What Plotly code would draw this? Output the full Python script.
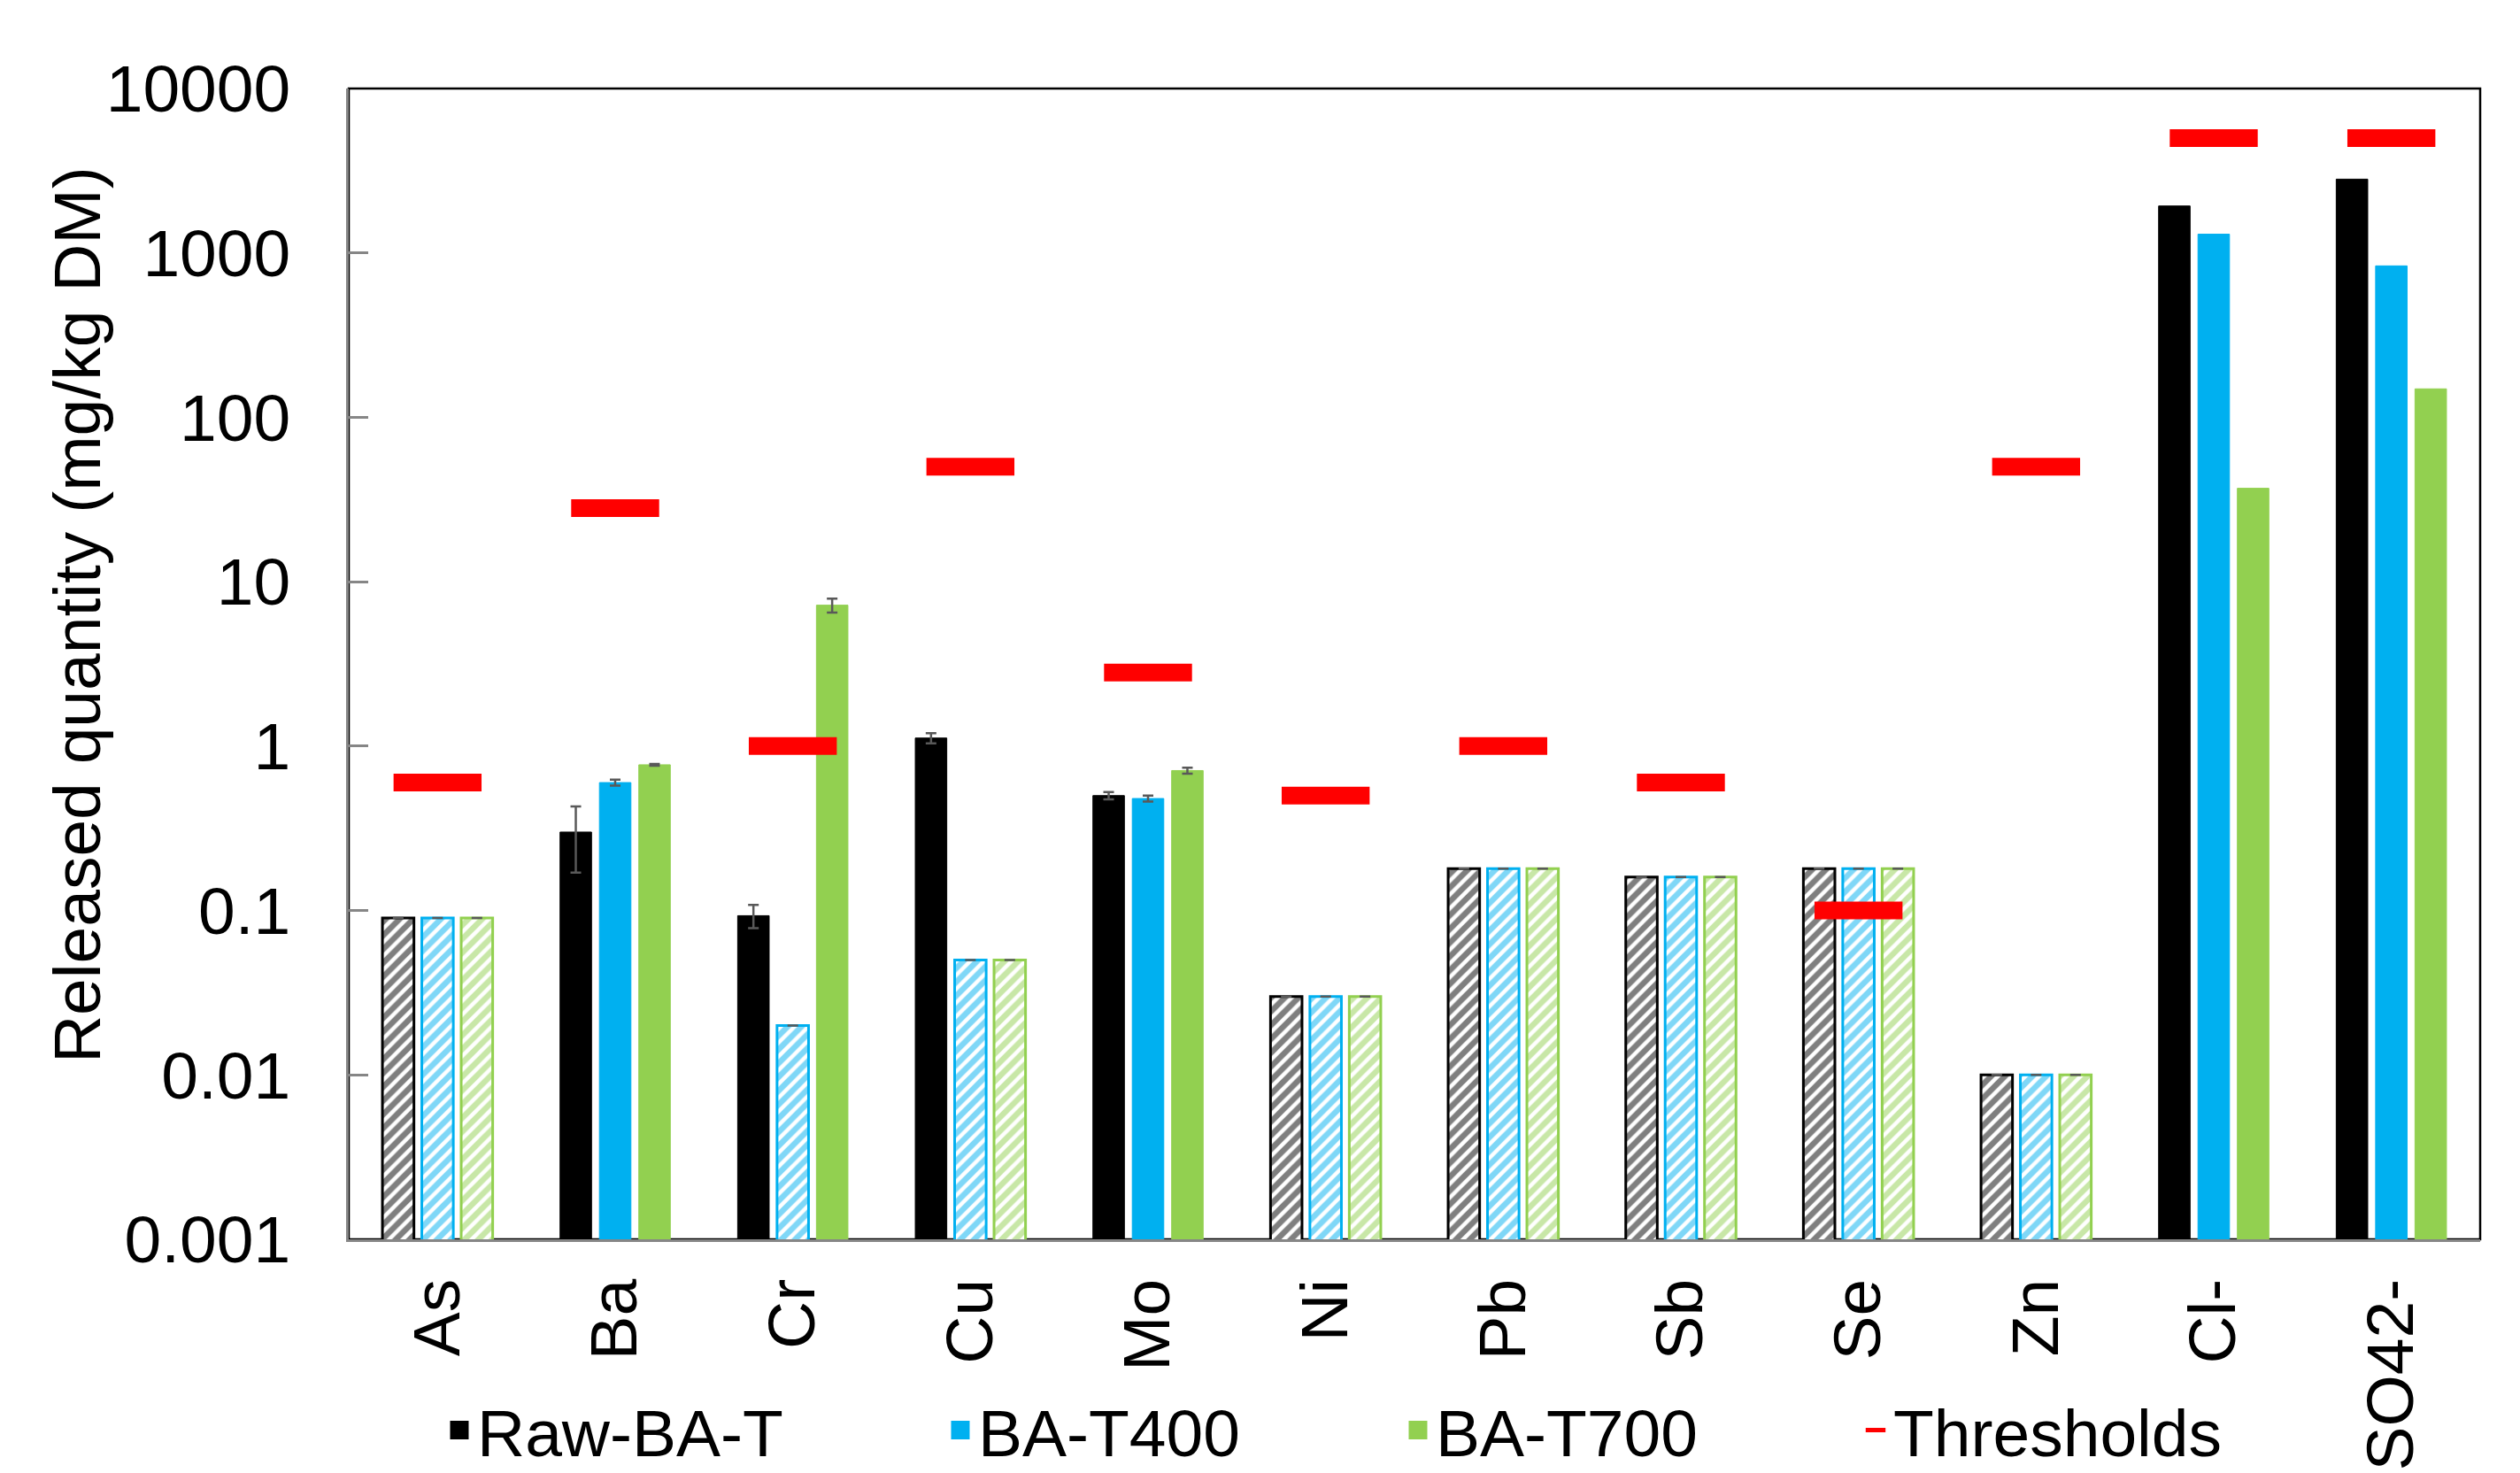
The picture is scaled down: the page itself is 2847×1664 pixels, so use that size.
import plotly.graph_objects as go

categories = ["As", "Ba", "Cr", "Cu", "Mo", "Ni", "Pb", "Sb", "Se", "Zn", "Cl-", "SO42-"]

raw_vals = [0.09, 0.30, 0.093, 1.12, 0.50, 0.03, 0.18, 0.16, 0.18, 0.01, 1930, 2810]
t400_vals = [0.09, 0.60, 0.02, 0.05, 0.48, 0.03, 0.18, 0.16, 0.18, 0.01, 1300, 834]
t700_vals = [0.09, 0.77, 7.2, 0.05, 0.71, 0.03, 0.18, 0.16, 0.18, 0.01, 37, 149]

# error bars (no error bars shown for Cl- and SO42-, so the lists stop at Zn)
raw_err = [0, 0.13, 0.015, 0.08, 0.025, 0, 0, 0, 0, 0]
t400_err = [0, 0.025, 0, 0, 0.02, 0, 0, 0, 0, 0]
t700_err = [0, 0.01, 0.7, 0, 0.03, 0, 0, 0, 0, 0]

# 1 = hatched bar (value at detection limit), 0 = solid bar
raw_hatched = [1, 0, 0, 0, 0, 1, 1, 1, 1, 1, 0, 0]
t400_hatched = [1, 0, 1, 1, 0, 1, 1, 1, 1, 1, 0, 0]
t700_hatched = [1, 0, 0, 1, 0, 1, 1, 1, 1, 1, 0, 0]

thresholds = [0.6, 28, 1, 50, 2.8, 0.5, 1, 0.6, 0.1, 50, 5000, 5000]

series_names = ["Raw-BA-T", "BA-T400", "BA-T700"]
series_colors = ["#000000", "#00B0F0", "#92D050"]
legend_widths = [521, 472, 472]

y_tickvals = [0.001, 0.01, 0.1, 1, 10, 100, 1000, 10000]
y_ticktext = ["0.001", "0.01", "0.1", "1", "10", "100", "1000", "10000"]

FONT = "Liberation Sans, Arial, sans-serif"
FS = 75

fig = go.Figure()

for name, color, vals, errs, hatch in zip(
    series_names, series_colors,
    [raw_vals, t400_vals, t700_vals],
    [raw_err, t400_err, t700_err],
    [raw_hatched, t400_hatched, t700_hatched],
):
    fig.add_trace(go.Bar(
        x=categories, y=vals, name=name, showlegend=False,
        marker=dict(
            color=color,
            line=dict(color=color, width=[3 if h else 1 for h in hatch]),
            pattern=dict(
                shape=["/" if h else "" for h in hatch],
                fgcolor=color, bgcolor="white", size=11, solidity=0.6,
            ),
        ),
        error_y=dict(type="data", array=errs, visible=True,
                     color="#595959", thickness=2.5, width=6),
    ))

for name, color, lw in zip(series_names, series_colors, legend_widths):
    fig.add_trace(go.Scatter(
        x=[None], y=[None], mode="markers", name=name, legendwidth=lw,
        marker=dict(symbol="square", size=16, color=color,
                    line=dict(color=color, width=5)),
    ))

fig.add_trace(go.Scatter(
    x=categories, y=thresholds, mode="markers", name="Thresholds",
    marker=dict(symbol="line-ew", size=71, color="#FF0000",
                line=dict(color="#FF0000", width=20)),
))

fig.update_layout(
    width=2847, height=1664,
    margin=dict(l=394, r=45, t=100, b=264, autoexpand=False),
    paper_bgcolor="white", plot_bgcolor="white",
    font=dict(family=FONT, size=FS, color="black"),
    barmode="group", bargap=0.335, bargroupgap=0.2,
    legend=dict(
        orientation="h", x=0.0436, xanchor="left", y=-0.166, yanchor="middle",
        font=dict(family=FONT, size=FS, color="black"),
        bgcolor="rgba(0,0,0,0)",
    ),
    xaxis=dict(
        type="category", range=[-0.5, len(categories) - 0.5],
        showline=True, linecolor="#868686", linewidth=2.5,
        ticks="", tickangle=-90, showgrid=False, zeroline=False, automargin=False,
        tickfont=dict(family=FONT, size=FS), ticklabelstandoff=12,
    ),
    yaxis=dict(
        type="log", range=[-3, 4], tickvals=y_tickvals, ticktext=y_ticktext,
        ticks="inside", ticklen=22, tickcolor="#868686", tickwidth=2.5,
        showline=True, linecolor="#868686", linewidth=2.5,
        showgrid=False, zeroline=False, automargin=False,
        tickfont=dict(family=FONT, size=FS), ticklabelstandoff=48,
    ),
    annotations=[dict(
        text="Released quantity (mg/kg DM)", textangle=-90,
        xref="paper", yref="paper", x=-0.1275, y=0.543,
        xanchor="center", yanchor="middle", showarrow=False,
        font=dict(family=FONT, size=FS, color="black"),
    )],
    shapes=[dict(type="rect", xref="paper", yref="paper", x0=0, x1=1, y0=0, y1=1,
                 line=dict(color="black", width=2.5), layer="below")],
)

fig.write_html("out.html", config={"displayModeBar": False},
               post_script="document.body.style.margin='0';")
